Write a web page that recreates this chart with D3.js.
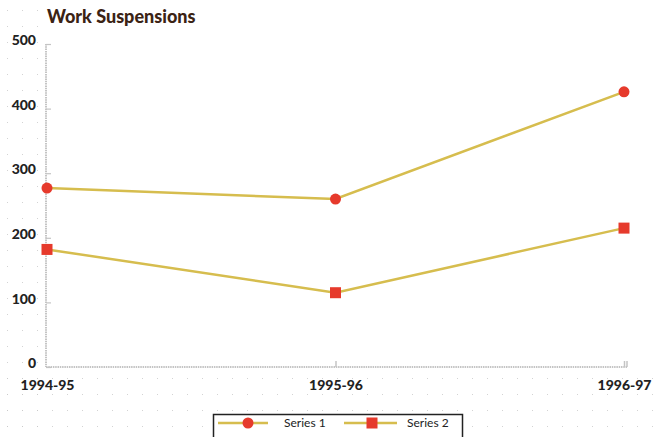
<!DOCTYPE html>
<html>
<head>
<meta charset="utf-8">
<script src="https://cdn.jsdelivr.net/npm/d3@7"></script>
<style>
  html, body { margin: 0; padding: 0; background: #fff; }
  svg { display: block; font-family: Lato, "Open Sans", sans-serif; }
</style>
</head>
<body>
<svg id="chart" width="659" height="437"></svg>
<script>
// Work suspensions by school year
const years = ["1994-95", "1995-96", "1996-97"];
const series1 = [277, 260, 426];
const series2 = [182, 115, 215];
const yTicks = [0, 100, 200, 300, 400, 500];
const seriesNames = ["Series 1", "Series 2"];

const W = 659, H = 437;
const plot = { left: 46, right: 627, top: 44, bottom: 367 };

const svg = d3.select("#chart");

// faint dotted page texture around the plot
const defs = svg.append("defs");
const pat = defs.append("pattern")
  .attr("id", "dots").attr("patternUnits", "userSpaceOnUse")
  .attr("width", 15).attr("height", 16).attr("x", 7).attr("y", 10);
pat.append("rect").attr("width", 0.9).attr("height", 0.9).attr("fill", "#c9c9c9");
svg.append("rect").attr("x", 0).attr("y", 0).attr("width", 42).attr("height", H).attr("fill", "url(#dots)");
svg.append("rect").attr("x", 0).attr("y", 372).attr("width", W).attr("height", H - 372).attr("fill", "url(#dots)");

const x = d3.scalePoint().domain(years).range([plot.left + 1, plot.right - 3]);
const y = d3.scaleLinear().domain([0, 500]).range([plot.bottom, plot.top]);

// title
svg.append("text")
  .attr("x", 47).attr("y", 23)
  .attr("font-size", 18).attr("font-weight", 900)
  .attr("fill", "#3b2314")
  .text("Work Suspensions");

const axisColor = "#c4c4c4";

// y axis
const yAxis = svg.append("g")
  .attr("transform", `translate(${plot.left},0)`)
  .call(d3.axisLeft(y).tickValues(yTicks).tickSize(-5).tickPadding(10).tickFormat(d3.format("d")));
yAxis.select(".domain").remove();
yAxis.selectAll(".tick line").attr("stroke", axisColor).attr("stroke-width", 1.2);
yAxis.selectAll(".tick text")
  .attr("font-size", 14).attr("font-weight", 900).attr("fill", "#222")
  .attr("dy", "0.05em")
  .attr("font-family", "Lato, sans-serif");
svg.append("line")
  .attr("x1", plot.left).attr("x2", plot.left)
  .attr("y1", y(500)).attr("y2", y(0))
  .attr("stroke", axisColor).attr("stroke-width", 2).attr("stroke-dasharray", "1.5,0.8");

// x axis
const xAxis = svg.append("g")
  .attr("transform", `translate(0,${plot.bottom})`)
  .call(d3.axisBottom(x).tickSize(-6).tickPadding(10));
xAxis.select(".domain").remove();
xAxis.selectAll(".tick line").attr("stroke", axisColor).attr("stroke-width", 1.5).attr("y2", -6);
xAxis.selectAll(".tick line").filter((d, i) => i === 0).remove();
xAxis.selectAll(".tick text")
  .attr("font-size", 14).attr("font-weight", 900).attr("fill", "#222")
  .attr("dy", "0.9em")
  .attr("font-family", "Lato, sans-serif");
svg.append("line")
  .attr("x1", plot.left).attr("x2", plot.right)
  .attr("y1", plot.bottom).attr("y2", plot.bottom)
  .attr("stroke", axisColor).attr("stroke-width", 2).attr("stroke-dasharray", "1.5,0.8");
svg.append("line")
  .attr("x1", plot.right).attr("x2", plot.right)
  .attr("y1", plot.bottom - 6).attr("y2", plot.bottom)
  .attr("stroke", axisColor).attr("stroke-width", 1.5);

// series
const lineColor = "#d6bd4e";
const markColor = "#e63a2c";
const line = d3.line().x((d, i) => x(years[i])).y(d => y(d));

function drawSeries(values, shape) {
  svg.append("path")
    .datum(values)
    .attr("d", line)
    .attr("fill", "none")
    .attr("stroke", lineColor)
    .attr("stroke-width", 2.5);
  const g = svg.append("g");
  values.forEach((v, i) => {
    const cx = x(years[i]), cy = y(v);
    if (shape === "circle") {
      g.append("circle").attr("cx", cx).attr("cy", cy).attr("r", 5.5).attr("fill", markColor);
    } else {
      g.append("rect").attr("x", cx - 5.5).attr("y", cy - 5.5)
        .attr("width", 11).attr("height", 11).attr("fill", markColor);
    }
  });
}
drawSeries(series1, "circle");
drawSeries(series2, "square");

// legend
const legend = svg.append("g");
legend.append("rect")
  .attr("x", 213.5).attr("y", 414.5).attr("width", 249).attr("height", 30)
  .attr("fill", "#fff").attr("stroke", "#222").attr("stroke-width", 1.5);
const items = [
  { name: seriesNames[0], shape: "circle", x0: 218, x1: 268, mx: 248, tx: 284 },
  { name: seriesNames[1], shape: "square", x0: 344, x1: 397, mx: 372, tx: 407 }
];
items.forEach(it => {
  const ly = 423;
  legend.append("line").attr("x1", it.x0).attr("x2", it.x1).attr("y1", ly).attr("y2", ly)
    .attr("stroke", lineColor).attr("stroke-width", 2.5);
  if (it.shape === "circle") {
    legend.append("circle").attr("cx", it.mx).attr("cy", ly).attr("r", 5.5).attr("fill", markColor);
  } else {
    legend.append("rect").attr("x", it.mx - 5.5).attr("y", ly - 5.5).attr("width", 11).attr("height", 11).attr("fill", markColor);
  }
  legend.append("text").attr("x", it.tx).attr("y", ly).attr("dy", "0.35em")
    .attr("font-size", 12).attr("fill", "#222").text(it.name);
});
</script>
</body>
</html>
